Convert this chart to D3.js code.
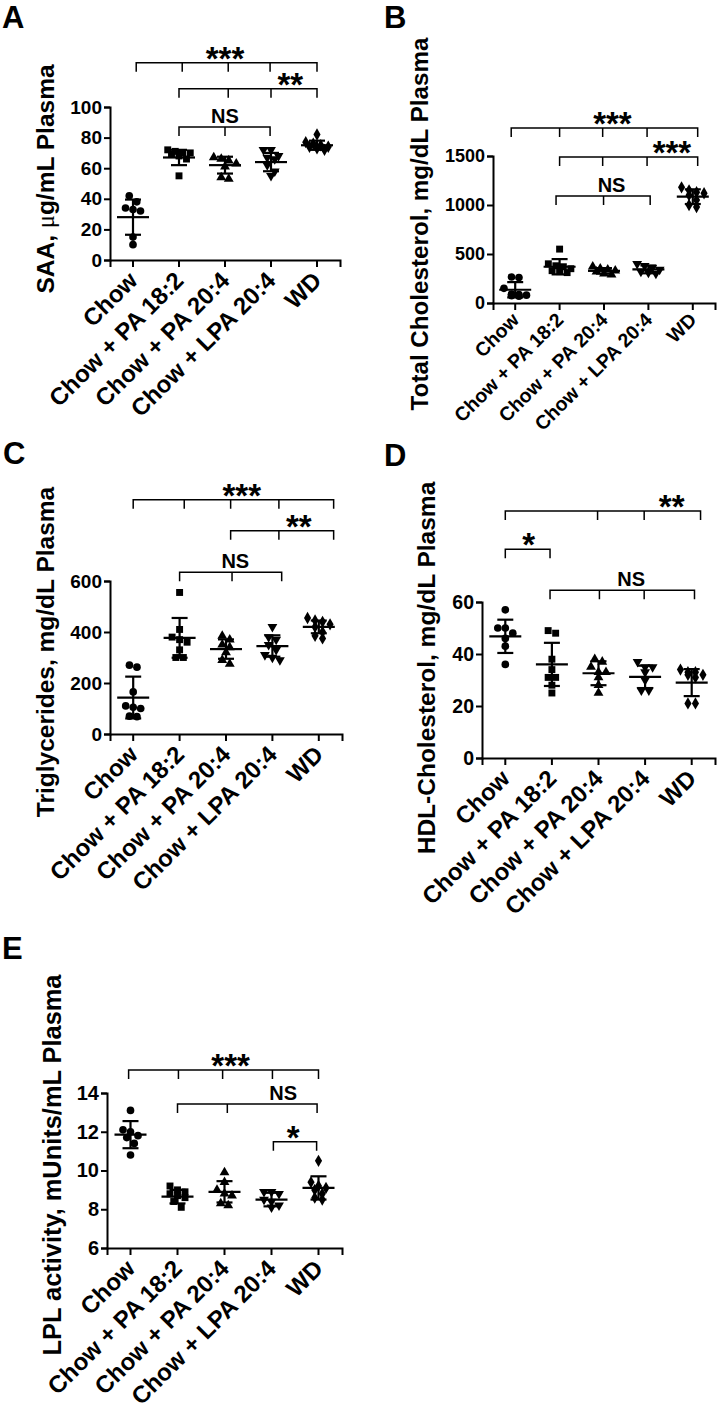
<!DOCTYPE html>
<html>
<head>
<meta charset="utf-8">
<script src="https://cdn.jsdelivr.net/npm/d3@7"></script>
<style>
  body { margin: 0; background: #fff; }
  svg { display: block; }
  text { font-family: "Liberation Sans", Arial, sans-serif; font-weight: bold; fill: #000; }
</style>
</head>
<body>
<svg id="fig" width="718" height="1423"></svg>
<script>
const groups = ["Chow", "Chow + PA 18:2", "Chow + PA 20:4", "Chow + LPA 20:4", "WD"];

// A - SAA
const saaPoints = [[42, 38, 34, 33, 32, 15, 10], [72, 71, 70, 70, 69, 68, 66, 55], [67, 66, 65, 63, 61, 54, 53], [72, 72, 68, 67, 66, 62, 58, 55], [82, 77, 76, 75, 74, 74, 73, 72]];
const saaMean = [28, 67, 62, 64, 75];
const saaSD = [11.5, 5, 5.5, 6, 3];
const saaTicks = [0, 20, 40, 60, 80, 100];
const saaBrackets = [
  { y: 129, from: 0.07, to: 4, ticks: [1.07, 2.07, 2.98], label: "***", at: 2 },
  { y: 112, from: 1, to: 4, ticks: [2.07, 3], label: "**", at: 3.42 },
  { y: 87, from: 1, to: 2.98, ticks: [2], label: "NS", at: 2 }
];

// B - total cholesterol
const tcPoints = [[265, 260, 150, 90, 85, 80, 75, 70], [550, 400, 380, 370, 350, 330, 320, 310], [370, 350, 340, 330, 320, 300, 290], [400, 380, 360, 340, 320, 310, 300], [1180, 1150, 1130, 1120, 1100, 1050, 1000, 980]];
const tcMean = [135, 370, 328, 343, 1085];
const tcSD = [78, 78, 28, 40, 75];
const tcTicks = [0, 500, 1000, 1500];
const tcBrackets = [
  { y: 1786, from: -0.09, to: 4.11, ticks: [1, 1.97, 2.97], label: "***", at: 2.19 },
  { y: 1490, from: 1, to: 4.11, ticks: [1.97, 2.97], label: "***", at: 3.53 },
  { y: 1092, from: 0.92, to: 3.04, ticks: [1.99], label: "NS", at: 2.17 }
];

// C - triglycerides
const tgPoints = [[270, 262, 165, 110, 105, 100, 70, 68], [555, 410, 380, 370, 360, 330, 300, 300], [385, 370, 350, 340, 320, 290, 275], [420, 380, 370, 350, 330, 310, 300, 290], [455, 445, 440, 430, 420, 400, 385, 375]];
const tgMean = [143, 377, 333, 345, 420];
const tgSD = [82, 78, 38, 42, 25];
const tgTicks = [0, 200, 400, 600];
const tgBrackets = [
  { y: 919, from: 0, to: 4.32, ticks: [1.1, 2.1, 3.14], label: "***", at: 2.34 },
  { y: 797, from: 2.1, to: 4.32, ticks: [3.14], label: "**", at: 3.57 },
  { y: 634, from: 1, to: 3.2, ticks: [2.13], label: "NS", at: 2.2 }
];

// D - HDL cholesterol
const hdlPoints = [[57, 50, 50, 48, 46, 43, 36], [49, 48, 38, 34, 31, 31, 28, 25], [38, 37, 35, 33, 33, 31, 28, 25], [37, 35, 35, 33, 30, 26, 26], [34, 33, 33, 32, 32, 31, 21, 21]];
const hdlMean = [46.8, 36, 32.6, 31.2, 29];
const hdlSD = [6.4, 8.3, 4.6, 4.3, 5.2];
const hdlTicks = [0, 20, 40, 60];
const hdlBrackets = [
  { y: 95, from: 0, to: 4.19, ticks: [1.98, 2.98], label: "**", at: 3.57 },
  { y: 80.3, from: 0, to: 0.96, ticks: [], label: "*", at: 0.5 },
  { y: 64.5, from: 0.96, to: 4.06, ticks: [2.02, 2.98], label: "NS", at: 2.7 }
];

// E - LPL activity
const lplPoints = [[13.1, 12.1, 12.0, 11.8, 11.7, 11.4, 10.8], [9.2, 9.0, 8.9, 8.8, 8.7, 8.6, 8.4, 8.1], [9.9, 9.4, 9.0, 8.8, 8.7, 8.3, 8.2], [8.9, 8.9, 8.8, 8.5, 8.4, 8.2, 8.1], [10.5, 9.4, 9.2, 9.1, 9.0, 8.8, 8.6, 8.5]];
const lplMean = [11.85, 8.65, 8.9, 8.5, 9.1];
const lplSD = [0.7, 0.35, 0.55, 0.35, 0.6];
const lplTicks = [6, 8, 10, 12, 14];
const lplBrackets = [
  { y: 15.19, from: -0.04, to: 4, ticks: [1.02, 1.96, 3.02], label: "***", at: 2.13 },
  { y: 13.43, from: 1, to: 3.97, ticks: [2.06], label: "NS", at: 3.25 },
  { y: 11.49, from: 3.04, to: 3.96, ticks: [], label: "*", at: 3.46 }
];

const svg = d3.select("#fig");

const symbols = [d3.symbolCircle, d3.symbolSquare, d3.symbolTriangle, d3.symbolTriangle, d3.symbolDiamond];
const symSize = [46, 48, 42, 42, 44];

// spread points of similar value into centred rows, like a scatter dot plot
function spreadPoints(vals, y, s) {
  const sorted = vals.map(v => ({ v, py: y(v) })).sort((a, b) => a.py - b.py);
  const rows = [];
  sorted.forEach(p => {
    const last = rows[rows.length - 1];
    if (last && p.py - last[0].py < s && last.length < 4) last.push(p);
    else rows.push([p]);
  });
  const out = [];
  rows.forEach(row => row.forEach((p, i) => out.push({ v: p.v, dx: (i - (row.length - 1) / 2) * s })));
  return out;
}

function drawPanel(o) {
  const g = svg.append("g");
  const x = d3.scaleBand().domain(groups).range([o.left, o.right]);
  const y = d3.scaleLinear().domain(o.domain).range([o.bottom, o.top]);
  const bx = i => x.range()[0] + (i + 0.5) * x.step();

  g.append("text").attr("x", o.letter[0]).attr("y", o.letter[1])
    .style("font-size", "31px").text(o.name);

  // y axis
  const ya = g.append("g").attr("transform", `translate(${o.left},0)`)
    .call(d3.axisLeft(y).tickValues(o.ticks).tickFormat(d3.format("d")).tickSizeOuter(0).tickSize(6).tickPadding(2));
  ya.selectAll("path,line").attr("stroke", "#000").attr("stroke-width", 2);
  ya.selectAll("text").style("font-size", o.tickFont + "px").attr("fill", "#000")
    .style("font-family", '"Liberation Sans", Arial, sans-serif').style("font-weight", "bold");

  // x axis
  const xa = g.append("g").attr("transform", `translate(0,${o.bottom})`)
    .call(d3.axisBottom(x).tickSizeOuter(0).tickSize(7).tickFormat(""));
  xa.selectAll("path,line").attr("stroke", "#000").attr("stroke-width", 2);

  g.selectAll(".xl").data(groups).enter().append("text")
    .attr("text-anchor", "end")
    .attr("transform", d => `translate(${x(d) + x.bandwidth() / 2 + o.xlOff[0]},${o.bottom + o.xlOff[1]}) rotate(-45)`)
    .style("font-size", o.xlFont + "px").text(d => d);

  // y title
  const t = g.append("text").attr("text-anchor", "middle")
    .attr("transform", `translate(${o.title[0]},${o.title[1]}) rotate(-90)`)
    .style("font-size", o.titleFont + "px");
  o.titleParts.forEach(p => {
    const ts = t.append("tspan").text(p.t);
    if (p.mu) ts.style("font-weight", "normal").style("font-family", '"Liberation Serif", serif');
  });

  // points
  o.points.forEach((vals, gi) => {
    const cx = x(groups[gi]) + x.bandwidth() / 2;
    const sym = d3.symbol().type(symbols[gi]).size(symSize[gi]);
    spreadPoints(vals, y, 7.5).forEach(p => {
      g.append("path").attr("d", sym)
        .attr("transform", `translate(${cx + p.dx},${y(p.v)})${gi === 3 ? " rotate(180)" : ""}`)
        .attr("fill", "#000");
    });
    // mean and SD
    const m = o.mean[gi], sd = o.sd[gi];
    const bars = [
      [cx, y(m - sd), cx, y(m + sd)],
      [cx - 16, y(m), cx + 16, y(m)],
      [cx - 8, y(m + sd), cx + 8, y(m + sd)],
      [cx - 8, y(m - sd), cx + 8, y(m - sd)]
    ];
    bars.forEach(b => g.append("line").attr("x1", b[0]).attr("y1", b[1]).attr("x2", b[2]).attr("y2", b[3])
      .attr("stroke", "#000").attr("stroke-width", 2.2));
  });

  // significance brackets
  o.brackets.forEach(b => {
    const yy = y(b.y);
    let d = `M${bx(b.from)},${yy + 9}V${yy}H${bx(b.to)}V${yy + 9}`;
    b.ticks.forEach(tk => { d += `M${bx(tk)},${yy}V${yy + 9}`; });
    g.append("path").attr("d", d).attr("fill", "none").attr("stroke", "#000").attr("stroke-width", 1.5);
    const star = b.label.startsWith("*");
    g.append("text").attr("text-anchor", "middle")
      .attr("x", bx(b.at)).attr("y", star ? yy + 7 : yy - 4)
      .style("font-size", star ? "33px" : "20px").text(b.label);
  });
}

drawPanel({ name: "A", letter: [2, 28], left: 110, right: 340, bottom: 260, top: 107, domain: [0, 100],
  ticks: saaTicks, tickFont: 19, xlFont: 24, xlOff: [6, 22], title: [54, 179], titleFont: 24.5,
  titleParts: [{ t: "SAA, " }, { t: "μ", mu: true }, { t: "g/mL Plasma" }],
  points: saaPoints, mean: saaMean, sd: saaSD, brackets: saaBrackets });

drawPanel({ name: "B", letter: [384, 28], left: 493, right: 715, bottom: 303, top: 156, domain: [0, 1500],
  ticks: tcTicks, tickFont: 18, xlFont: 19.5, xlOff: [5, 18], title: [428, 224], titleFont: 24.2,
  titleParts: [{ t: "Total Cholesterol, mg/dL Plasma" }],
  points: tcPoints, mean: tcMean, sd: tcSD, brackets: tcBrackets });

drawPanel({ name: "C", letter: [3, 464], left: 110, right: 342, bottom: 734, top: 581, domain: [0, 600],
  ticks: tgTicks, tickFont: 19, xlFont: 24, xlOff: [6, 22], title: [54, 652], titleFont: 24.5,
  titleParts: [{ t: "Triglycerides, mg/dL Plasma" }],
  points: tgPoints, mean: tgMean, sd: tgSD, brackets: tgBrackets });

drawPanel({ name: "D", letter: [384, 466], left: 482, right: 715, bottom: 758, top: 602, domain: [0, 60],
  ticks: hdlTicks, tickFont: 19.5, xlFont: 24, xlOff: [6, 22], title: [435, 668], titleFont: 24.5,
  titleParts: [{ t: "HDL-Cholesterol, mg/dL Plasma" }],
  points: hdlPoints, mean: hdlMean, sd: hdlSD, brackets: hdlBrackets });

drawPanel({ name: "E", letter: [2, 959], left: 107, right: 342, bottom: 1248, top: 1093, domain: [6, 14],
  ticks: lplTicks, tickFont: 20, xlFont: 24, xlOff: [6, 22], title: [61, 1165], titleFont: 25.4,
  titleParts: [{ t: "LPL activity, mUnits/mL Plasma" }],
  points: lplPoints, mean: lplMean, sd: lplSD, brackets: lplBrackets });
</script>
</body>
</html>
